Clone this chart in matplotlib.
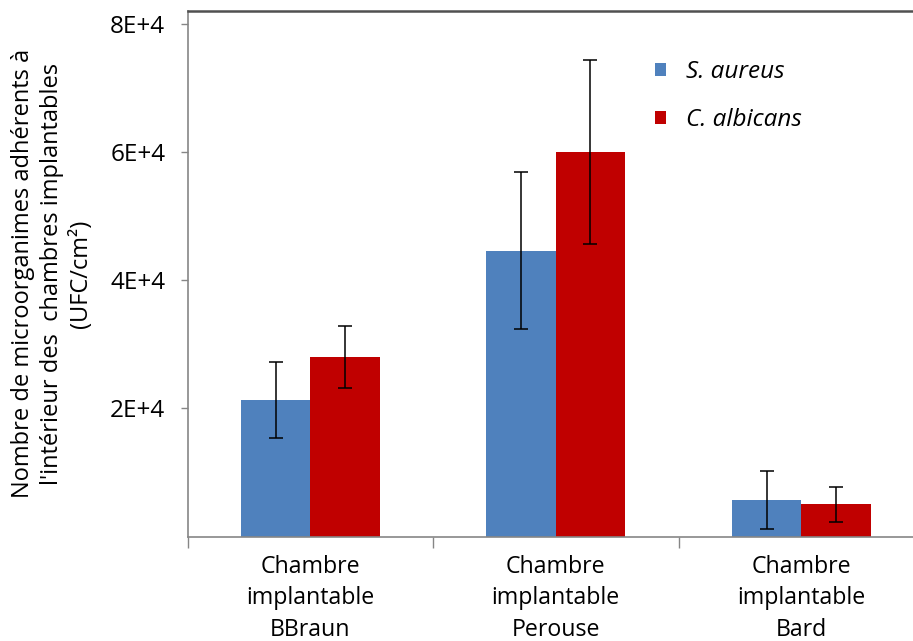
import matplotlib
matplotlib.use("Agg")
import matplotlib.pyplot as plt
import numpy as np
from matplotlib.ticker import FuncFormatter, FixedLocator

categories = ["Chambre\nimplantable\nBBraun", "Chambre\nimplantable\nPerouse", "Chambre\nimplantable\nBard"]
series_names = ["S. aureus", "C. albicans"]
s_aureus = [21300, 44600, 5700]
s_aureus_err = [6000, 12200, 4500]
c_albicans = [28000, 60000, 5000]
c_albicans_err = [4900, 14300, 2800]
yticks = [20000, 40000, 60000, 80000]
ylabel = "Nombre de microorganimes adhérents à\nl'intérieur des  chambres implantables\n(UFC/cm²)"

plt.rcParams['font.family'] = ['Open Sans', 'DejaVu Sans']

W, H = 913, 641
fig = plt.figure(figsize=(W / 100, H / 100), dpi=100)
ax = fig.add_axes([187.5 / W, (H - 536.5) / H, (924 - 187.5) / W, (536.5 - 11) / H])

x = np.arange(len(categories))
w = 0.283
blue = "#4F81BD"
red = "#C00000"
ekw = dict(ecolor="black", elinewidth=1.1, capsize=4.8, capthick=1.1)
ax.bar(x - w / 2, s_aureus, w, color=blue, yerr=s_aureus_err, error_kw=ekw, label=series_names[0])
ax.bar(x + w / 2, c_albicans, w, color=red, yerr=c_albicans_err, error_kw=ekw, label=series_names[1])

ax.set_xlim(-0.5, 2.5)
ax.set_ylim(0, 82000)

ax.yaxis.set_major_locator(FixedLocator(yticks))
ax.yaxis.set_major_formatter(FuncFormatter(lambda v, p: f"{int(round(v / 10000))}E+4"))
ax.tick_params(axis='y', length=5, width=1, color="#868686", labelsize=17.5, pad=11, direction='out')

ax.xaxis.set_major_locator(FixedLocator([-0.5, 0.5, 1.5, 2.5]))
ax.xaxis.set_major_formatter(FuncFormatter(lambda v, p: ""))
ax.xaxis.set_minor_locator(FixedLocator(list(x)))
ax.set_xticklabels(categories, minor=True)
ax.tick_params(axis='x', which='major', length=8, width=1, color="#868686", direction='out')
ax.tick_params(axis='x', which='minor', length=0, labelsize=16.7, pad=13)
for t in ax.get_xticklabels(minor=True):
    t.set_linespacing(1.42)

for s in ["left", "bottom"]:
    ax.spines[s].set_color("#868686")
    ax.spines[s].set_linewidth(1.2)
ax.spines["top"].set_color("#505050")
ax.spines["top"].set_linewidth(1.8)
ax.spines["right"].set_visible(False)

ax.set_ylabel(ylabel, fontsize=17, linespacing=1.3, labelpad=12)

leg = ax.legend(loc="upper left", bbox_to_anchor=((633 - 187.5) / (924 - 187.5), (536.5 - 38) / (536.5 - 11)),
                frameon=False, handlelength=0.45, handleheight=0.45, handletextpad=0.85,
                labelspacing=1.0, prop={'style': 'italic', 'size': 17.5})

fig.savefig("out.png", dpi=100)
